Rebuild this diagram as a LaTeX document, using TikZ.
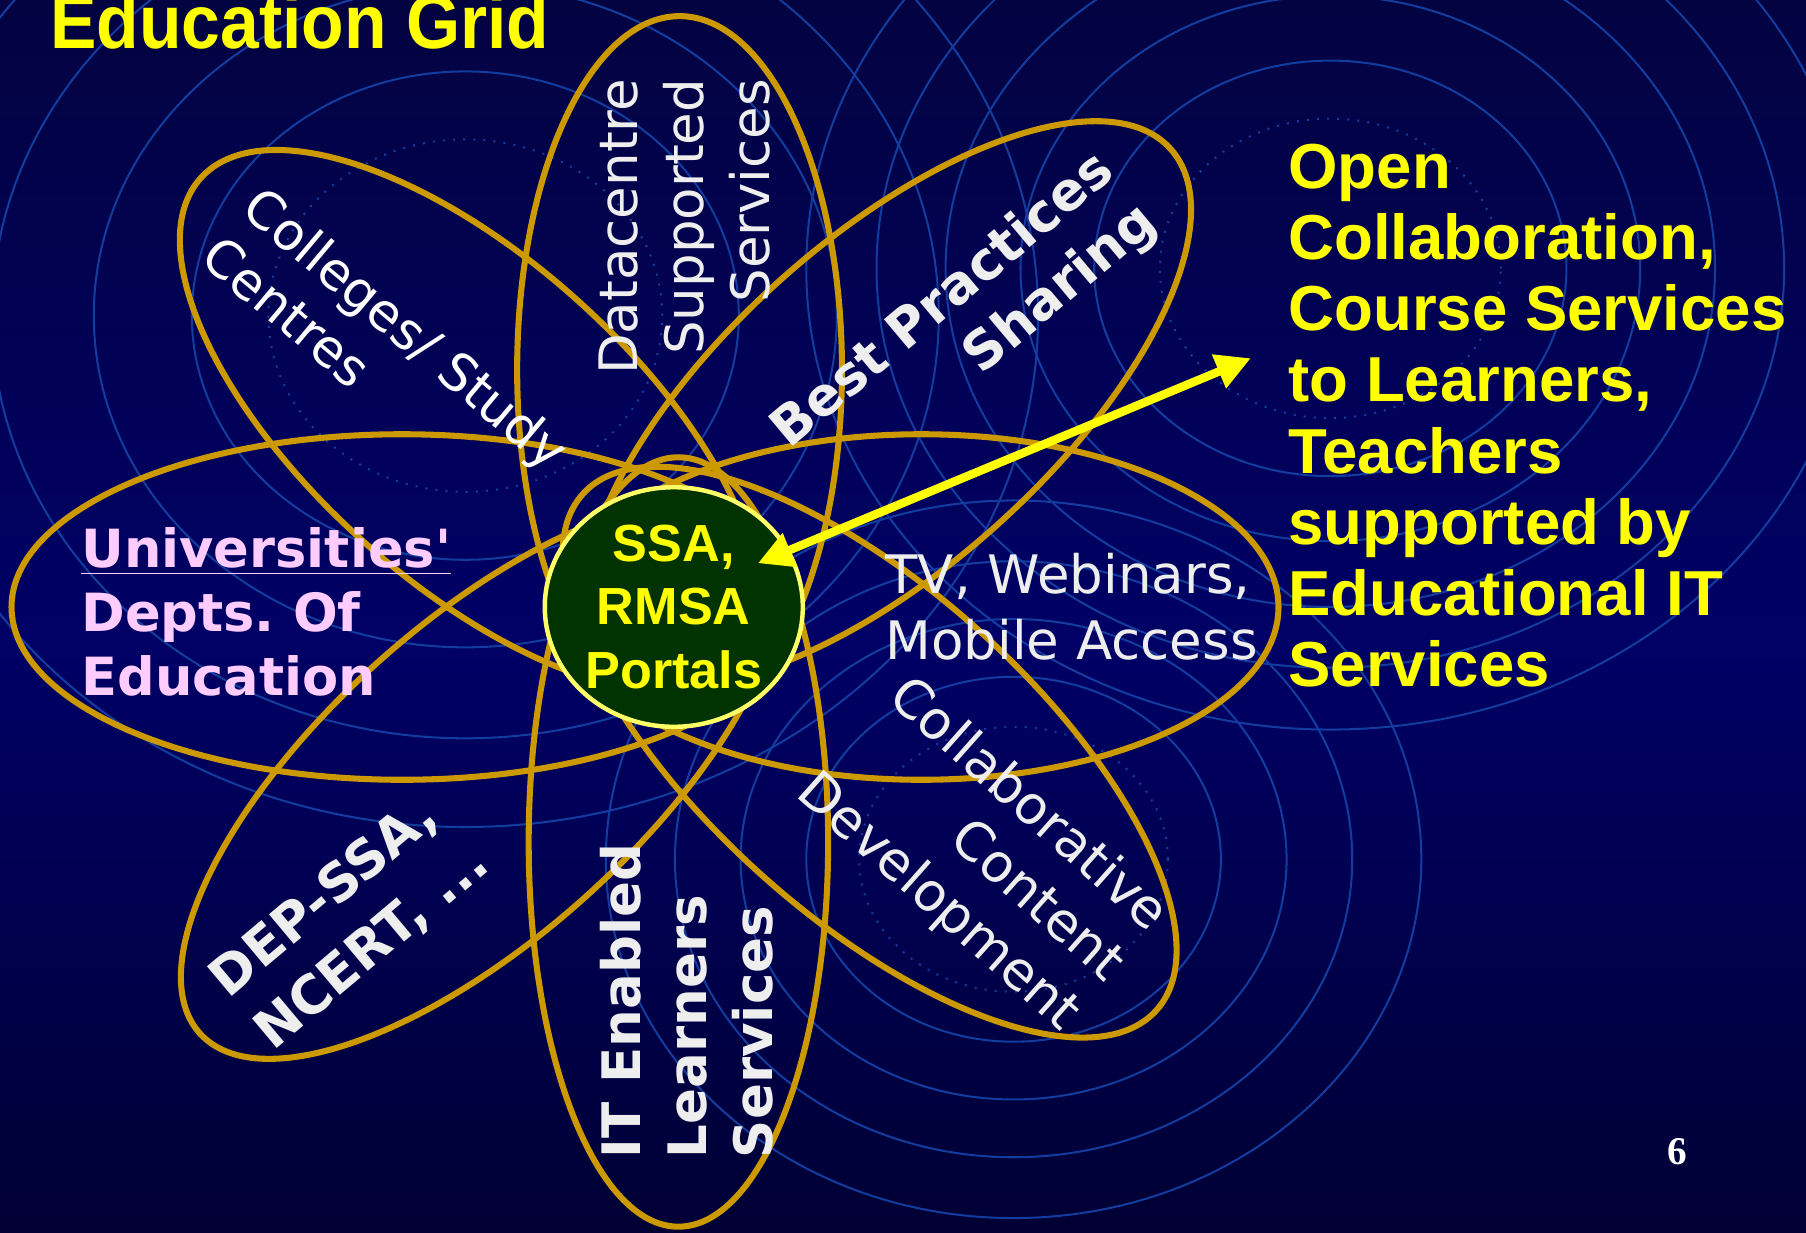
\documentclass[tikz,border=0pt]{standalone}
\usepackage{fontspec}
\setmainfont{Liberation Sans}
\newfontfamily\verdana{DejaVu Sans}
\newfontfamily\timesnr{Liberation Serif}
\usepackage{xcolor}
\usepackage{graphicx}
\usetikzlibrary{shapes.geometric,arrows.meta,positioning,calc}

\definecolor{gridgold}{HTML}{CC9900}
\definecolor{ringblue}{HTML}{123C9E}
\definecolor{hubgreen}{HTML}{003300}
\definecolor{hubrim}{HTML}{FFFF66}
\definecolor{slideyellow}{HTML}{FFFF00}
\definecolor{unipink}{HTML}{FFCCFF}
\definecolor{petaltext}{HTML}{EEEEEE}
\definecolor{slidetop}{HTML}{06061E}
\definecolor{slidemid}{HTML}{000066}
\pgfdeclareverticalshading{slidebg}{100bp}{color(0bp)=(black); color(49bp)=(slidemid); color(100bp)=(slidetop)}

\begin{document}
\begin{tikzpicture}[
    petal/.style={draw=gridgold, line width=1.5pt},
    ring/.style={draw=ringblue, line width=0.5pt},
    dotring/.style={ring, dotted},
    petallabel/.style={text=petaltext, inner sep=0pt, font=\verdana\fontsize{13.1}{16.3}\selectfont},
    boldlabel/.style={petallabel, font=\verdana\bfseries\fontsize{13.1}{16.3}\selectfont},
    yellowtext/.style={text=slideyellow, inner sep=0pt, font=\bfseries\fontsize{15.7}{17.6}\selectfont},
    arrow/.style={<->, >={Triangle[length=3mm, width=3mm]}, line width=2.1pt, slideyellow}
]
    % Slide background
    \useasboundingbox (0,0) rectangle (15.68,-10.70);
    \clip (0,0) rectangle (15.68,-10.70);
    \shade[shading=slidebg] (0,0) rectangle (15.68,-10.70);

    % Background rings (left, right, lower right)
    \draw[dotring] (4.04,-2.74) ellipse [x radius=1.71, y radius=1.53];
    \foreach \r in {2.12,2.88,3.67,4.44}
        \draw[ring] (4.04,-2.74) ellipse [x radius={1.12*\r}, y radius=\r];
    \draw[dotring] (11.55,-2.33) ellipse [x radius=1.48, y radius=1.30];
    \foreach \r in {2.05,2.69,3.34,3.94,4.55}
        \draw[ring] (11.55,-2.33) ellipse [x radius=\r, y radius={0.88*\r}];
    \draw[dotring] (8.80,-7.46) ellipse [x radius=1.34, y radius=1.15];
    \foreach \r in {1.80,2.37,2.94,3.54}
        \draw[ring] (8.80,-7.46) ellipse [x radius=\r, y radius={0.88*\r}];

    % Petals
    \draw[petal] (5.90,-3.21) ellipse [x radius=1.41, y radius=3.07];
    \draw[petal] (5.89,-7.31) ellipse [x radius=1.30, y radius=3.34];
    \draw[petal] (3.49,-5.27) ellipse [x radius=3.39, y radius=1.50];
    \draw[petal] (8.00,-5.27) ellipse [x radius=3.10, y radius=1.50];
    \draw[petal, rotate around={-42:(4.08,-3.65)}] (4.08,-3.65) ellipse [x radius=3.145, y radius=1.40];
    \draw[petal, rotate around={42:(7.71,-3.50)}] (7.71,-3.50) ellipse [x radius=3.30, y radius=1.42];
    \draw[petal, rotate around={42:(4.18,-6.77)}] (4.18,-6.77) ellipse [x radius=3.29, y radius=1.36];
    \draw[petal, rotate around={-42:(7.55,-6.53)}] (7.55,-6.53) ellipse [x radius=3.35, y radius=1.42];

    % Hub
    \node[ellipse, fill=hubgreen, draw=hubrim, line width=1.1pt, minimum width=2.24cm, minimum height=2.08cm, inner sep=0pt, align=center, text=slideyellow, font=\bfseries\fontsize{12.9}{15.6}\selectfont] (hub) at (5.85,-5.27) {SSA,\\RMSA\\Portals};

    % Title
    \node[yellowtext, font=\bfseries\fontsize{18.8}{20}\selectfont, anchor=base west] (title) at (0.43,-0.42) {\scalebox{0.915}[1]{Education Grid}};

    % Petal labels
    \node[petallabel, text=white, rotate=-40, align=left, font=\verdana\fontsize{12.8}{15.8}\selectfont] (colleges) at (3.35,-3.06) {Colleges/ Study\\Centres};
    \node[petallabel, rotate=90, align=right] (datacentre) at (5.94,-1.97) {Datacentre\\Supported\\Services};
    \node[boldlabel, rotate=40, align=right, font=\verdana\bfseries\fontsize{13.1}{16.5}\selectfont] (practices) at (8.38,-2.84) {Best Practices\\Sharing};
    \node[petallabel, anchor=north west, align=left] (media) at (7.68,-4.80) {TV, Webinars,\\Mobile Access};
    \node[petallabel, rotate=-41.6, align=right] (content) at (8.52,-7.41) {Collaborative\\Content\\Development};
    \node[boldlabel, rotate=90, align=left] (learners) at (5.96,-8.69) {IT Enabled\\Learners\\Services};
    \node[boldlabel, rotate=40, align=left, font=\verdana\bfseries\fontsize{13.1}{17}\selectfont] (agencies) at (3.04,-8.00) {DEP-SSA,\\NCERT, ...};
    \node[boldlabel, text=unipink, anchor=north west, align=left, font=\verdana\bfseries\fontsize{13}{15.8}\selectfont] (universities) at (0.70,-4.57) {\underline{Universities\textquotesingle}\\Depts.\ Of\\Education};

    % Right hand text
    \node[yellowtext, anchor=north west, align=left] (open) at (11.18,-1.24) {Open\\Collaboration,\\Course Services\\to Learners,\\Teachers\\supported by\\Educational IT\\Services};

    % Arrow between hub and text
    \coordinate (hubtip) at (6.58,-4.89);
    \coordinate (opentip) at (10.86,-3.11);
    \draw[arrow] (hubtip) -- (opentip);

    % Page number
    \node[text=white, inner sep=0pt, font=\timesnr\bfseries\fontsize{9.7}{11}\selectfont] (pagenum) at (14.56,-10.00) {6};
\end{tikzpicture}
\end{document}
